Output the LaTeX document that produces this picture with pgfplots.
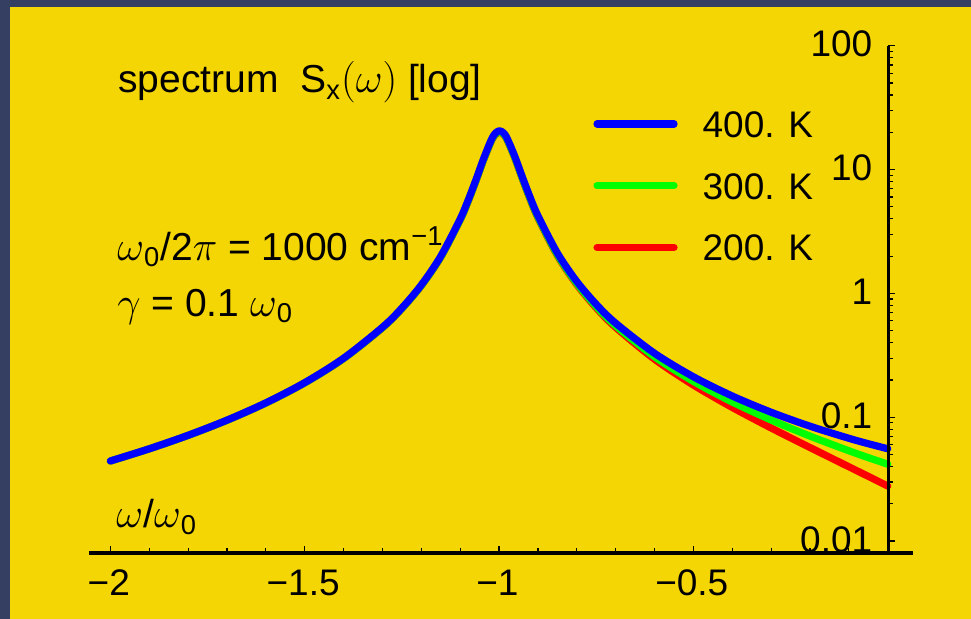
\documentclass[border=0pt]{standalone}
\usepackage{pgfplots}
\pgfplotsset{compat=1.18}
\usepackage{pgfplotstable}
\usepackage{fontspec}
\setmainfont{Liberation Sans}
\definecolor{bordercol}{HTML}{353F62}
\definecolor{bgyellow}{HTML}{F4D604}
\definecolor{cblue}{HTML}{0000FF}
\definecolor{cgreen}{HTML}{00FF00}
\definecolor{cred}{HTML}{FF0000}

\pgfplotstableread{
x      T400     T300     T200
-2.00  0.04428  0.04425  0.04425
-1.90  0.05555  0.05550  0.05549
-1.80  0.07140  0.07130  0.07129
-1.70  0.09463  0.09445  0.09442
-1.60  0.13053  0.13018  0.13012
-1.50  0.19013  0.18941  0.18927
-1.40  0.29945  0.29786  0.29751
-1.30  0.5324   0.5284   0.5274
-1.25  0.7614   0.7548   0.7530
-1.20  1.1694   1.1575   1.1540
-1.15  1.9939   1.9699   1.9625
-1.10  3.991    3.9347   3.9160
-1.08  5.604    5.520    5.491
-1.06  8.177    8.046    8.000
-1.04  12.192   11.985   11.910
-1.02  17.393   17.077   16.960
-1.01  19.565   19.199   19.061
-1.00  20.563   20.167   20.015
-0.99  19.985   19.587   19.433
-0.98  18.076   17.705   17.559
-0.96  12.906   12.624   12.511
-0.94  8.694    8.492    8.408
-0.92  5.958    5.810    5.748
-0.90  4.2389   4.1275   4.0787
-0.85  2.1178   2.0531   2.0228
-0.80  1.2466   1.2024   1.1802
-0.75  0.8163   0.7827   0.7648
-0.70  0.5746   0.5474   0.5318
-0.60  0.32836  0.30774  0.29435
-0.50  0.21210  0.19469  0.18197
-0.40  0.14830  0.13259  0.11987
-0.30  0.10964  0.09488  0.08183
-0.20  0.08458  0.07034  0.05688
-0.10  0.06754  0.05356  0.03978
-0.05  0.06105  0.04713  0.03327
 0.00  0.05560  0.04170  0.02780
}\spectab

\begin{document}
\begin{tikzpicture}
\useasboundingbox (0,0) rectangle (485.5pt,309.5pt);
\fill[bordercol] (0,0) rectangle (485.5pt,309.5pt);
\fill[bgyellow] (5pt,0) rectangle (485.5pt,305.8pt);

% x axis, curves, legend
\begin{axis}[
  at={(44.5pt,33pt)}, anchor=south west,
  scale only axis, width=412pt, height=253.6pt,
  xmin=-2.055, xmax=0.065,
  ymode=log, ymin=0.008, ymax=100,
  axis x line=bottom, axis y line=none,
  x axis line style={-, line width=1.8pt, black},
  xtick={-2,-1.5,-1,-0.5},
  xticklabels={−2,−1.5,−1,−0.5},
  minor xtick={-1.9,-1.8,-1.7,-1.6,-1.4,-1.3,-1.2,-1.1,-0.9,-0.8,-0.7,-0.6,-0.4,-0.3,-0.2,-0.1},
  tick align=inside,
  major tick length=3.4pt, minor tick length=2.6pt,
  every tick/.style={black, line width=0.6pt},
  xticklabel style={font=\fontsize{18.5}{20}\selectfont, anchor=center, yshift=-14.8pt, xshift=-0.8pt},
  clip=false,
  reverse legend,
  legend cell align=left,
  legend style={at={(0.6117,0.873)}, anchor=north west, draw=none, fill=none,
    inner sep=0pt, row sep=17.6pt, column sep=12.5pt,
    font=\fontsize{18.5}{20}\selectfont,
    nodes={inner sep=0pt, text height=13.3pt, text depth=0pt}},
  legend image code/.code={\draw[#1, line cap=round] (0pt,0pt) -- (38.5pt,0pt);},
]
\addplot[cred, line width=3.6pt, line cap=round, line join=round, smooth] table[x=x, y=T200] {\spectab};
\addlegendentry{200. K}
\addplot[cgreen, line width=3.6pt, line cap=round, line join=round, smooth] table[x=x, y=T300] {\spectab};
\addlegendentry{300. K}
\addplot[cblue, line width=3.6pt, line cap=round, line join=round, smooth] table[x=x, y=T400] {\spectab};
\addlegendentry{400. K}
\end{axis}

% y axis at x = 0
\begin{axis}[
  at={(444.15pt,33pt)}, anchor=south west,
  scale only axis, width=20pt, height=253.6pt,
  xmin=0, xmax=1,
  ymode=log, ymin=0.008, ymax=100,
  axis y line=left, axis x line=none,
  y axis line style={-, line width=1.6pt, black},
  ytick={0.01,0.1,1,10,100},
  yticklabels={0.01,0.1,1,10,100},
  minor ytick={0.02,0.03,0.04,0.05,0.06,0.07,0.08,0.09,0.2,0.3,0.4,0.5,0.6,0.7,0.8,0.9,2,3,4,5,6,7,8,9,20,30,40,50,60,70,80,90},
  tick align=inside,
  major tick length=3.2pt, minor tick length=2.4pt,
  every tick/.style={black, line width=0.6pt},
  yticklabel style={font=\fontsize{18.5}{20}\selectfont, xshift=-4.5pt, yshift=0.8pt},
]
\end{axis}

\node[anchor=base west, inner sep=0pt, font=\fontsize{19.5}{22}\selectfont] at (59pt,263pt)
  {spectrum\ \ S\textsubscript{x}$(\omega)$ [log]};
\node[anchor=base west, inner sep=0pt, font=\fontsize{19.5}{22}\selectfont] at (58.5pt,179.2pt)
  {$\omega$\textsubscript{0}/2$\pi$ = 1000 cm\textsuperscript{−1}};
\node[anchor=base west, inner sep=0pt, font=\fontsize{19.5}{22}\selectfont] at (58.5pt,151.2pt)
  {$\gamma$ = 0.1 $\omega$\textsubscript{0}};
\node[anchor=base west, inner sep=0pt, font=\fontsize{19.5}{22}\selectfont] at (58pt,45.5pt)
  {$\omega$/$\omega$\textsubscript{0}};
\end{tikzpicture}
\end{document}
